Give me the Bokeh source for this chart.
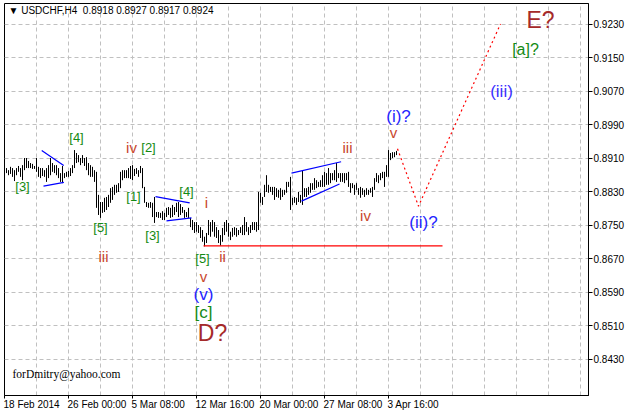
from bokeh.plotting import figure
from bokeh.models import ColumnDataSource, Range1d, FixedTicker, NumeralTickFormatter, Label
from bokeh.core.properties import value
from bokeh.embed import file_html
from bokeh.resources import INLINE

# ---------------- data ----------------
symbol = "USDCHF,H4"
last_ohlc = [0.8918, 0.8927, 0.8917, 0.8924]

highs = [
    0.8884, 0.8886, 0.8881, 0.8889, 0.8886, 0.8881, 0.8886, 0.8891, 0.8886, 0.8893,
    0.8910, 0.8910, 0.8903, 0.8898, 0.8896, 0.8891, 0.8910, 0.8889, 0.8886, 0.8886,
    0.8881, 0.8886, 0.8893, 0.8910, 0.8898, 0.8893, 0.8893, 0.8886, 0.8874, 0.8891,
    0.8874, 0.8877, 0.8879, 0.8886, 0.8893, 0.8929, 0.8922, 0.8917, 0.8910, 0.8917,
    0.8910, 0.8912, 0.8898, 0.8893, 0.8889, 0.8881, 0.8877, 0.8822, 0.8805, 0.8805,
    0.8815, 0.8817, 0.8822, 0.8838, 0.8841, 0.8846, 0.8846, 0.8850, 0.8877, 0.8881,
    0.8881, 0.8881, 0.8886, 0.8891, 0.8893, 0.8884, 0.8886, 0.8881, 0.8891, 0.8886,
    0.8841, 0.8805, 0.8803, 0.8805, 0.8803, 0.8817, 0.8781, 0.8781, 0.8779, 0.8783,
    0.8779, 0.8791, 0.8793, 0.8791, 0.8798, 0.8793, 0.8803, 0.8805, 0.8800, 0.8793,
    0.8786, 0.8781, 0.8791, 0.8767, 0.8762, 0.8757, 0.8757, 0.8750, 0.8745, 0.8738,
    0.8722, 0.8731, 0.8762, 0.8757, 0.8762, 0.8757, 0.8745, 0.8738, 0.8726, 0.8743,
    0.8757, 0.8762, 0.8755, 0.8734, 0.8743, 0.8745, 0.8743, 0.8738, 0.8745, 0.8750,
    0.8769, 0.8757, 0.8745, 0.8750, 0.8757, 0.8757, 0.8757, 0.8829, 0.8827, 0.8817,
    0.8846, 0.8869, 0.8846, 0.8841, 0.8841, 0.8841, 0.8838, 0.8834, 0.8838, 0.8834,
    0.8834, 0.8853, 0.8853, 0.8865, 0.8815, 0.8817, 0.8815, 0.8829, 0.8822, 0.8879,
    0.8838, 0.8838, 0.8841, 0.8850, 0.8850, 0.8862, 0.8857, 0.8853, 0.8857, 0.8869,
    0.8877, 0.8874, 0.8886, 0.8874, 0.8874, 0.8881, 0.8898, 0.8874, 0.8874, 0.8874,
    0.8874, 0.8874, 0.8877, 0.8850, 0.8850, 0.8846, 0.8850, 0.8838, 0.8841, 0.8838,
    0.8834, 0.8838, 0.8834, 0.8838, 0.8841, 0.8862, 0.8874, 0.8869, 0.8874, 0.8877,
    0.8877, 0.8893, 0.8929, 0.8922, 0.8924, 0.8924, 0.8927,
]
lows = [
    0.8877, 0.8874, 0.8869, 0.8872, 0.8865, 0.8855, 0.8869, 0.8877, 0.8865, 0.8857,
    0.8881, 0.8886, 0.8886, 0.8886, 0.8884, 0.8884, 0.8877, 0.8865, 0.8862, 0.8867,
    0.8865, 0.8853, 0.8862, 0.8869, 0.8877, 0.8874, 0.8869, 0.8862, 0.8853, 0.8850,
    0.8862, 0.8865, 0.8865, 0.8867, 0.8874, 0.8886, 0.8898, 0.8900, 0.8893, 0.8898,
    0.8891, 0.8881, 0.8869, 0.8865, 0.8865, 0.8853, 0.8791, 0.8774, 0.8767, 0.8779,
    0.8781, 0.8786, 0.8793, 0.8803, 0.8810, 0.8822, 0.8827, 0.8829, 0.8838, 0.8857,
    0.8862, 0.8862, 0.8862, 0.8860, 0.8857, 0.8867, 0.8872, 0.8865, 0.8874, 0.8838,
    0.8803, 0.8793, 0.8791, 0.8791, 0.8769, 0.8755, 0.8769, 0.8767, 0.8767, 0.8762,
    0.8762, 0.8769, 0.8774, 0.8767, 0.8769, 0.8774, 0.8781, 0.8769, 0.8774, 0.8779,
    0.8767, 0.8769, 0.8767, 0.8745, 0.8738, 0.8731, 0.8734, 0.8731, 0.8719, 0.8710,
    0.8699, 0.8707, 0.8726, 0.8722, 0.8734, 0.8722, 0.8719, 0.8707, 0.8701, 0.8710,
    0.8726, 0.8734, 0.8722, 0.8714, 0.8722, 0.8726, 0.8722, 0.8726, 0.8731, 0.8726,
    0.8726, 0.8734, 0.8726, 0.8731, 0.8738, 0.8738, 0.8734, 0.8738, 0.8803, 0.8798,
    0.8817, 0.8829, 0.8827, 0.8829, 0.8822, 0.8810, 0.8817, 0.8815, 0.8810, 0.8817,
    0.8822, 0.8827, 0.8841, 0.8786, 0.8798, 0.8803, 0.8798, 0.8805, 0.8803, 0.8798,
    0.8817, 0.8817, 0.8822, 0.8827, 0.8834, 0.8834, 0.8838, 0.8841, 0.8841, 0.8841,
    0.8841, 0.8846, 0.8846, 0.8850, 0.8857, 0.8857, 0.8853, 0.8862, 0.8853, 0.8853,
    0.8850, 0.8857, 0.8841, 0.8827, 0.8838, 0.8822, 0.8834, 0.8822, 0.8815, 0.8822,
    0.8817, 0.8822, 0.8822, 0.8827, 0.8817, 0.8834, 0.8853, 0.8850, 0.8857, 0.8862,
    0.8841, 0.8865, 0.8865, 0.8905, 0.8910, 0.8912, 0.8917,
]
bar_index = list(range(len(highs)))

date_ticks = [0, 32, 64, 96, 128, 160, 192]
date_labels = ["18 Feb 2014", "26 Feb 00:00", "5 Mar 08:00", "12 Mar 16:00",
               "20 Mar 00:00", "27 Mar 08:00", "3 Apr 16:00"]
grid_bars = [16, 32, 48, 64, 80, 96, 112, 128, 144, 160, 176, 192, 208, 224,
             240, 256, 272, 288]
price_ticks = [0.8430, 0.8510, 0.8590, 0.8670, 0.8750, 0.8830, 0.8910,
               0.8990, 0.9070, 0.9150, 0.9230]

# Elliott wave labels
wave_text = ["[4]", "[3]", "iv", "[2]", "[1]", "[5]", "iii", "[3]", "[4]", "i",
             "[5]", "ii", "v", "(v)", "[c]", "D?", "iii", "iv", "v", "(i)?",
             "(ii)?", "(iii)", "[a]?", "E?"]
wave_bar = [36, 9, 63.5, 72, 64.5, 48, 49.5, 74, 91, 101,
            99, 109, 99.5, 99.5, 99.5, 104, 171.5, 180.5, 194.5, 197,
            209.5, 248.5, 260.5, 268]
wave_price = [0.8960, 0.8841, 0.8934, 0.8934, 0.8817, 0.8745, 0.8674, 0.8724, 0.8829, 0.8803,
              0.8669, 0.8676, 0.8628, 0.8585, 0.8540, 0.8492, 0.8934, 0.8772, 0.8970, 0.9010,
              0.8757, 0.9070, 0.9168, 0.9240]
wave_degree = ["minor", "minor", "minute", "minor", "minor", "minor", "minute", "minor", "minor", "minute",
               "minor", "minute", "minute", "minuette", "intermediate", "primary", "minute", "minute", "minute", "minuette",
               "minuette", "minuette", "intermediate", "primary"]

support_level = 0.8700
support_bars = [99.5, 219]
projection_bar = [196.5, 207, 248]
projection_price = [0.8932, 0.8795, 0.9230]

pattern_bars = [[18.6, 29.6], [19.5, 29.7], [75.5, 92.6], [81, 93.5],
                [143.5, 168.3], [148.5, 167.5]]
pattern_prices = [[0.8928, 0.8892], [0.8843, 0.8852], [0.8818, 0.8803], [0.8760, 0.8767],
                  [0.8874, 0.8901], [0.8807, 0.8848]]

# ---------------- styles / layout ----------------
degree_color = {"minor": "#138a13", "minute": "#c8462d", "minuette": "#2424ff",
                "intermediate": "#138a13", "primary": "#a52a2a"}
degree_size = {"minor": "13px", "minute": "15px", "minuette": "17px",
               "intermediate": "17px", "primary": "23px"}
wave_color = [degree_color[d] for d in wave_degree]
wave_size = [degree_size[d] for d in wave_degree]
wave_color[21] = "#3a30ff"
wave_size[22] = "16px"

PX_PER_BAR = 2.0
PX_PER_PRICE = 4187.5
FRAME_W, FRAME_H = 584, 392
y_top = 0.92790
y_bottom = y_top - FRAME_H / PX_PER_PRICE
x_start = 0.0
x_end = x_start + FRAME_W / PX_PER_BAR

# approx Liberation Sans advance widths (em) to left-align date labels at their ticks
_cw = {"0": .556, "1": .556, "2": .556, "3": .556, "4": .556, "5": .556, "6": .556,
       "7": .556, "8": .556, "9": .556, " ": .278, ":": .278, "F": .611, "e": .556,
       "b": .556, "M": .833, "a": .556, "r": .333, "A": .667, "p": .556}
LABEL_PX = 10
label_pos = []
for t, lab in zip(date_ticks, date_labels):
    w = sum(_cw.get(ch, .556) for ch in lab) * LABEL_PX
    label_pos.append(round(t + (w / 2 - 1) / PX_PER_BAR, 4))

p = figure(frame_width=FRAME_W, frame_height=FRAME_H, output_backend="svg",
           toolbar_location=None, y_axis_location="right",
           x_range=Range1d(x_start, x_end), y_range=Range1d(y_bottom, y_top),
           min_border_left=4, min_border_top=3, min_border_bottom=16, min_border_right=0)
p.outline_line_color = "black"
p.outline_line_width = 1
p.background_fill_color = "white"
p.border_fill_color = "white"

# grid
p.xgrid.ticker = FixedTicker(ticks=grid_bars)
p.ygrid.ticker = FixedTicker(ticks=price_ticks)
for g in (p.xgrid, p.ygrid):
    g.grid_line_color = "#c0c0c0"
    g.grid_line_dash = "4 3"
    g.grid_line_width = 1

# y axis (right)
p.yaxis.ticker = FixedTicker(ticks=price_ticks)
p.yaxis.formatter = NumeralTickFormatter(format="0.0000")
p.yaxis.major_tick_out = 4
p.yaxis.major_tick_in = 0
p.yaxis.minor_tick_line_color = None
p.yaxis.axis_line_color = "black"
p.yaxis.major_tick_line_color = "black"
p.yaxis.major_label_standoff = 1
p.yaxis.major_label_text_font = "Liberation Sans"
p.yaxis.major_label_text_font_size = "10px"
p.yaxis.major_label_text_color = "black"

# x axis: tick marks as minor ticks at the dates, labels on shifted major ticks
p.xaxis.ticker = FixedTicker(ticks=label_pos, minor_ticks=date_ticks)
p.xaxis.major_label_overrides = {pos: lab for pos, lab in zip(label_pos, date_labels)}
p.xaxis.major_tick_line_color = None
p.xaxis.major_tick_out = 3
p.xaxis.major_tick_in = 0
p.xaxis.minor_tick_out = 3
p.xaxis.minor_tick_in = 0
p.xaxis.minor_tick_line_color = "black"
p.xaxis.axis_line_color = "black"
p.xaxis.major_label_standoff = 0
p.xaxis.major_label_text_font = "Liberation Sans"
p.xaxis.major_label_text_font_size = f"{LABEL_PX}px"
p.xaxis.major_label_text_color = "black"

# bars
src = ColumnDataSource(dict(x=bar_index, h=highs, l=lows))
p.segment(x0="x", y0="l", x1="x", y1="h", source=src, line_color="black", line_width=1)

# support line and projection
p.line(x=support_bars, y=[support_level, support_level], line_color="red", line_width=1.3)
p.line(x=projection_bar, y=projection_price, line_color="red", line_width=1.2,
       line_dash="2 3")

# pattern lines
p.multi_line(xs=pattern_bars, ys=pattern_prices, line_color="#0000ff", line_width=1.2)

# wave labels
wsrc = ColumnDataSource(dict(x=wave_bar, y=wave_price, t=wave_text, c=wave_color, s=wave_size))
p.text(x="x", y="y", text="t", text_color="c", text_font_size="s", source=wsrc,
       text_align="center", text_baseline="middle", text_font=value("Liberation Sans"))

# title & credit
title = "\u25bc " + symbol + "\u00a0\u00a0" + " ".join(f"{v:.4f}" for v in last_ohlc)
p.add_layout(Label(x=2, y=0.92754, text=title, text_align="left", text_baseline="top",
                   text_font="Liberation Sans", text_font_size="10px",
                   text_color="black"))
p.add_layout(Label(x=4, y=0.8394, text="forDmitry@yahoo.com", text_align="left",
                   text_baseline="middle", text_font="Liberation Serif",
                   text_font_size="11.5px", text_color="black"))

open("out.html", "w").write(file_html(p, INLINE))
